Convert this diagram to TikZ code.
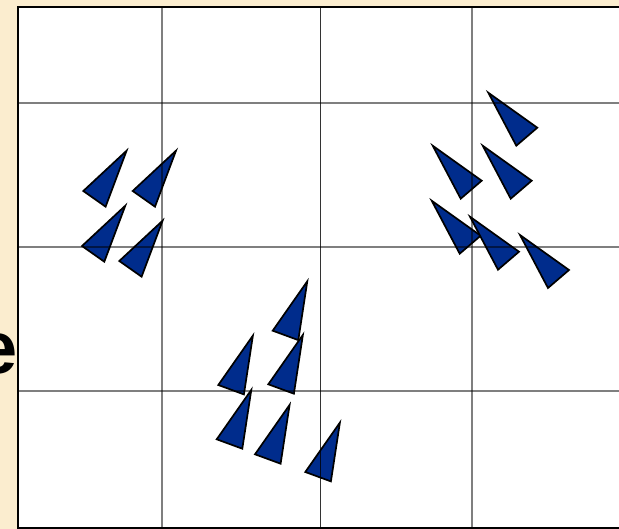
\documentclass[tikz,border=0pt]{standalone}
\usepackage{fontspec}
\setmainfont{Liberation Sans}
\definecolor{PaperBeige}{RGB}{251, 237, 207}
\definecolor{FishBlue}{RGB}{0, 44, 140}
\usetikzlibrary{positioning}

\begin{document}
\begin{tikzpicture}[
  x=1pt, y=-1pt,
  tri/.style={fill=FishBlue, draw=black, line width=1.7pt, line join=miter},
  gridline/.style={draw=black, opacity=0.5, line width=1.8pt},
  midline/.style={draw=black, opacity=0.8, line width=1.1pt}
]
\useasboundingbox (0,0) rectangle (619,529);
\fill[PaperBeige] (0,0) rectangle (619,529);
\node[anchor=base east, inner sep=0pt, font=\fontsize{74}{80}\selectfont\bfseries] (cut) at (17.5,374) {e};
\filldraw[fill=white, draw=black, line width=2pt] (17.5,7) rectangle (630,527.5);

% left group
\foreach \x/\y in {83.3/191, 132.7/191, 82/246, 119.3/261}
  \filldraw[tri] (\x,\y) -- ++(43.3,-40.3) -- ++(-21,56) -- cycle;
% right group
\foreach \x/\y in {488.3/92.7, 432.7/145.7, 482.7/145.7, 431.7/200.7, 470/216.7, 520/235}
  \filldraw[tri] (\x,\y) -- ++(49,35) -- ++(-21,18) -- cycle;
% middle group
\foreach \x/\y in {272.7/330.7, 218.3/385, 268.3/384.3, 216.7/439.3, 255/454.3, 305.3/472}
  \filldraw[tri] (\x,\y) -- ++(34.6,-49.4) -- ++(-9,58.8) -- cycle;

% grid on top
\foreach \gx in {162, 471.7}
  \draw[gridline] (\gx,8) -- (\gx,526.5);
\draw[midline] (320.7,8) -- (320.7,526.5);
\foreach \gy in {103, 246.7, 390.7}
  \draw[gridline] (18.5,\gy) -- (630,\gy);
\end{tikzpicture}
\end{document}
